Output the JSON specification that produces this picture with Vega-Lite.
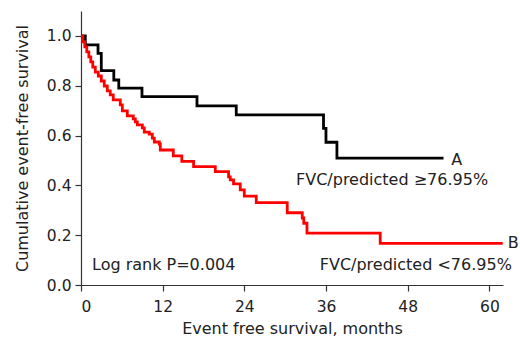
{
  "$schema": "https://vega.github.io/schema/vega-lite/v6.json",
  "width": 422,
  "height": 274,
  "autosize": "none",
  "padding": {"left": 81, "top": 11, "right": 17, "bottom": 57},
  "background": "white",
  "config": {
    "view": {"stroke": null},
    "font": "DejaVu Sans",
    "axis": {
      "grid": false,
      "domainColor": "#333",
      "tickColor": "#333",
      "labelColor": "#222",
      "titleColor": "#222",
      "labelFont": "DejaVu Sans",
      "titleFont": "DejaVu Sans",
      "labelFontSize": 15.5,
      "titleFontSize": 16,
      "titleFontWeight": "normal",
      "tickSize": 6,
      "domainWidth": 1.2,
      "tickWidth": 1.2
    }
  },
  "datasets": {
    "curves": [
      {"group": "A", "month": 0, "surv": 1.0},
      {"group": "A", "month": 0.63, "surv": 0.964},
      {"group": "A", "month": 2.5, "surv": 0.93},
      {"group": "A", "month": 2.98, "surv": 0.861},
      {"group": "A", "month": 4.82, "surv": 0.823},
      {"group": "A", "month": 5.55, "surv": 0.79},
      {"group": "A", "month": 8.96, "surv": 0.756},
      {"group": "A", "month": 17.04, "surv": 0.719},
      {"group": "A", "month": 22.81, "surv": 0.683},
      {"group": "A", "month": 35.63, "surv": 0.629},
      {"group": "A", "month": 35.99, "surv": 0.573},
      {"group": "A", "month": 37.6, "surv": 0.509},
      {"group": "A", "month": 53.26, "surv": 0.509},
      {"group": "B", "month": 0, "surv": 1.0},
      {"group": "B", "month": 0.26, "surv": 0.976},
      {"group": "B", "month": 0.56, "surv": 0.956},
      {"group": "B", "month": 0.85, "surv": 0.936},
      {"group": "B", "month": 1.15, "surv": 0.916},
      {"group": "B", "month": 1.44, "surv": 0.896},
      {"group": "B", "month": 1.73, "surv": 0.875},
      {"group": "B", "month": 2.1, "surv": 0.855},
      {"group": "B", "month": 2.54, "surv": 0.839},
      {"group": "B", "month": 2.98, "surv": 0.819},
      {"group": "B", "month": 3.42, "surv": 0.799},
      {"group": "B", "month": 3.86, "surv": 0.779},
      {"group": "B", "month": 4.3, "surv": 0.763},
      {"group": "B", "month": 4.74, "surv": 0.743},
      {"group": "B", "month": 5.77, "surv": 0.723},
      {"group": "B", "month": 6.07, "surv": 0.699},
      {"group": "B", "month": 6.8, "surv": 0.679},
      {"group": "B", "month": 7.68, "surv": 0.667},
      {"group": "B", "month": 7.98, "surv": 0.655},
      {"group": "B", "month": 8.27, "surv": 0.643},
      {"group": "B", "month": 9.01, "surv": 0.631},
      {"group": "B", "month": 9.3, "surv": 0.614},
      {"group": "B", "month": 10.03, "surv": 0.606},
      {"group": "B", "month": 10.48, "surv": 0.59},
      {"group": "B", "month": 10.77, "surv": 0.574},
      {"group": "B", "month": 11.51, "surv": 0.566},
      {"group": "B", "month": 11.65, "surv": 0.542},
      {"group": "B", "month": 13.56, "surv": 0.518},
      {"group": "B", "month": 14.81, "surv": 0.496},
      {"group": "B", "month": 16.54, "surv": 0.475},
      {"group": "B", "month": 19.73, "surv": 0.455},
      {"group": "B", "month": 21.68, "surv": 0.434},
      {"group": "B", "month": 21.93, "surv": 0.422},
      {"group": "B", "month": 22.41, "surv": 0.406},
      {"group": "B", "month": 23.4, "surv": 0.382},
      {"group": "B", "month": 23.99, "surv": 0.357},
      {"group": "B", "month": 25.75, "surv": 0.331},
      {"group": "B", "month": 30.3, "surv": 0.29},
      {"group": "B", "month": 32.51, "surv": 0.269},
      {"group": "B", "month": 32.73, "surv": 0.248},
      {"group": "B", "month": 33.2, "surv": 0.208},
      {"group": "B", "month": 43.96, "surv": 0.167},
      {"group": "B", "month": 61.96, "surv": 0.167}
    ],
    "labels": [
      {"label": "A", "month": 55.2, "surv": 0.5, "align": "center"},
      {"label": "FVC/predicted ≥76.95%", "month": 45.7, "surv": 0.422, "align": "center"},
      {"label": "B", "month": 63.5, "surv": 0.168, "align": "center"},
      {"label": "FVC/predicted <76.95%", "month": 63.3, "surv": 0.08, "align": "right"},
      {"label": "Log rank P=0.004", "month": 1.62, "surv": 0.08, "align": "left"}
    ]
  },
  "layer": [
    {
      "data": {"name": "curves"},
      "mark": {"type": "line", "interpolate": "step-after", "strokeWidth": 2.8, "clip": false},
      "encoding": {
        "x": {
          "field": "month", "type": "quantitative",
          "scale": {"domain": [0, 62], "nice": false},
          "axis": {"values": [0, 12, 24, 36, 48, 60], "title": "Event free survival, months", "labelPadding": 8, "titlePadding": 6}
        },
        "y": {
          "field": "surv", "type": "quantitative",
          "scale": {"domain": [0, 1.1], "nice": false},
          "axis": {"values": [0, 0.2, 0.4, 0.6, 0.8, 1.0], "format": ".1f", "title": "Cumulative event-free survival", "labelPadding": 4, "titlePadding": 16}
        },
        "color": {
          "field": "group", "type": "nominal",
          "scale": {"domain": ["A", "B"], "range": ["#000000", "#ff0000"]},
          "legend": null
        }
      }
    },
    {
      "data": {"name": "labels"},
      "transform": [{"filter": "datum.align == 'center'"}],
      "mark": {"type": "text", "fontSize": 16, "font": "DejaVu Sans", "color": "#222", "align": "center", "baseline": "middle", "clip": false},
      "encoding": {
        "x": {"field": "month", "type": "quantitative"},
        "y": {"field": "surv", "type": "quantitative"},
        "text": {"field": "label"}
      }
    },
    {
      "data": {"name": "labels"},
      "transform": [{"filter": "datum.align == 'right'"}],
      "mark": {"type": "text", "fontSize": 16, "font": "DejaVu Sans", "color": "#222", "align": "right", "baseline": "middle", "clip": false},
      "encoding": {
        "x": {"field": "month", "type": "quantitative"},
        "y": {"field": "surv", "type": "quantitative"},
        "text": {"field": "label"}
      }
    },
    {
      "data": {"name": "labels"},
      "transform": [{"filter": "datum.align == 'left'"}],
      "mark": {"type": "text", "fontSize": 16, "font": "DejaVu Sans", "color": "#222", "align": "left", "baseline": "middle", "clip": false},
      "encoding": {
        "x": {"field": "month", "type": "quantitative"},
        "y": {"field": "surv", "type": "quantitative"},
        "text": {"field": "label"}
      }
    }
  ]
}
